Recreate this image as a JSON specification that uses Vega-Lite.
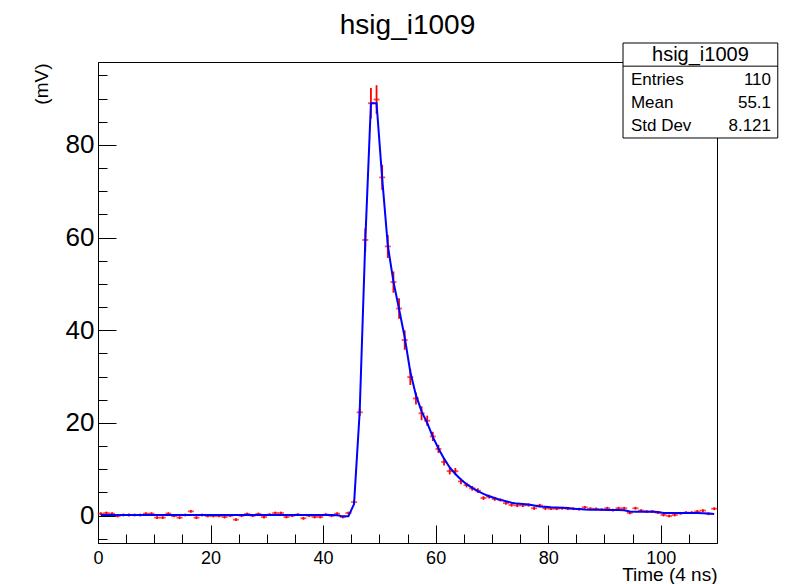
{
  "$schema": "https://vega.github.io/schema/vega-lite/v6.json",
  "width": 619,
  "height": 481,
  "autosize": {"type": "none"},
  "padding": {"left": 98, "top": 62, "right": 73, "bottom": 41},
  "background": "white",
  "title": {"text": "hsig_i1009", "fontSize": 28, "font": "Liberation Sans", "fontWeight": "normal", "color": "black", "anchor": "middle", "frame": "group", "offset": 3},
  "config": {
    "font": "Liberation Sans",
    "view": {"stroke": "black", "strokeWidth": 1},
    "axis": {"grid": false, "domainColor": "black", "domainWidth": 1, "tickColor": "black", "tickWidth": 1, "labelColor": "black", "titleColor": "black", "labelFont": "Liberation Sans", "titleFont": "Liberation Sans", "titleFontWeight": "normal", "labelFlush": false, "labelOverlap": false, "labelBound": false}
  },
  "resolve": {"axis": {"x": "independent", "y": "independent"}},
  "datasets": {
    "hist": [
    {"t":0.5,"v":0.43,"e":0.3,"s":0.12},{"t":1.5,"v":0.57,"e":0.3,"s":0.12},{"t":2.5,"v":0.43,"e":0.3,"s":0.12},{"t":3.5,"v":-0.07,"e":0.3,"s":0.12},{"t":4.5,"v":0.14,"e":0.3,"s":0.12},
    {"t":5.5,"v":0.14,"e":0.3,"s":0.12},{"t":6.5,"v":0.14,"e":0.3,"s":0.12},{"t":7.5,"v":0.14,"e":0.3,"s":0.12},{"t":8.5,"v":0.43,"e":0.3,"s":0.12},{"t":9.5,"v":0.43,"e":0.3,"s":0.12},
    {"t":10.5,"v":-0.43,"e":0.3,"s":0.12},{"t":11.5,"v":-0.43,"e":0.3,"s":0.12},{"t":12.5,"v":0.43,"e":0.3,"s":0.12},{"t":13.5,"v":-0.07,"e":0.3,"s":0.12},{"t":14.5,"v":-0.43,"e":0.3,"s":0.12},
    {"t":15.5,"v":0.14,"e":0.3,"s":0.12},{"t":16.5,"v":0.93,"e":0.3,"s":0.12},{"t":17.5,"v":-0.43,"e":0.3,"s":0.12},{"t":18.5,"v":0.14,"e":0.3,"s":0.12},{"t":19.5,"v":-0.07,"e":0.3,"s":0.12},
    {"t":20.5,"v":-0.07,"e":0.3,"s":0.12},{"t":21.5,"v":-0.07,"e":0.3,"s":0.12},{"t":22.5,"v":-0.29,"e":0.3,"s":0.12},{"t":23.5,"v":0.0,"e":0.3,"s":0.12},{"t":24.5,"v":-0.86,"e":0.3,"s":0.12},
    {"t":25.5,"v":0.0,"e":0.3,"s":0.12},{"t":26.5,"v":0.36,"e":0.3,"s":0.12},{"t":27.5,"v":0.0,"e":0.3,"s":0.12},{"t":28.5,"v":0.36,"e":0.3,"s":0.12},{"t":29.5,"v":-0.29,"e":0.3,"s":0.12},
    {"t":30.5,"v":0.22,"e":0.3,"s":0.12},{"t":31.5,"v":0.57,"e":0.3,"s":0.12},{"t":32.5,"v":0.57,"e":0.3,"s":0.12},{"t":33.5,"v":-0.29,"e":0.3,"s":0.12},{"t":34.5,"v":0.0,"e":0.3,"s":0.12},
    {"t":35.5,"v":0.22,"e":0.3,"s":0.12},{"t":36.5,"v":-0.57,"e":0.3,"s":0.12},{"t":37.5,"v":0.0,"e":0.3,"s":0.12},{"t":38.5,"v":-0.29,"e":0.3,"s":0.12},{"t":39.5,"v":-0.29,"e":0.3,"s":0.12},
    {"t":40.5,"v":0.22,"e":0.3,"s":0.12},{"t":41.5,"v":0.0,"e":0.3,"s":0.12},{"t":42.5,"v":0.43,"e":0.3,"s":0.1},{"t":43.5,"v":-0.29,"e":0.3,"s":-0.15},{"t":44.5,"v":0.57,"e":0.3,"s":-0.15},
    {"t":45.5,"v":2.9,"e":0.4,"s":2.5},{"t":46.5,"v":22.3,"e":0.8,"s":22.3},{"t":47.5,"v":59.5,"e":2.5,"s":59.3},{"t":48.5,"v":89.0,"e":3.3,"s":89.0},{"t":49.5,"v":89.8,"e":3.1,"s":89.0},
    {"t":50.5,"v":73.0,"e":2.7,"s":72.8},{"t":51.5,"v":58.1,"e":2.5,"s":58.3},{"t":52.5,"v":50.4,"e":2.3,"s":50.5},{"t":53.5,"v":44.7,"e":2.2,"s":44.6},{"t":54.5,"v":37.9,"e":2.1,"s":38.5},
    {"t":55.5,"v":29.9,"e":1.7,"s":31.0},{"t":56.5,"v":25.3,"e":1.3,"s":26.0},{"t":57.5,"v":22.1,"e":1.5,"s":22.5},{"t":58.5,"v":20.5,"e":1.1,"s":20.0},{"t":59.5,"v":17.1,"e":1.0,"s":17.0},
    {"t":60.5,"v":14.4,"e":0.9,"s":14.5},{"t":61.5,"v":11.6,"e":0.8,"s":12.3},{"t":62.5,"v":9.6,"e":0.7,"s":10.4},{"t":63.5,"v":9.6,"e":0.7,"s":9.0},{"t":64.5,"v":7.4,"e":0.6,"s":7.8},
    {"t":65.5,"v":6.6,"e":0.5,"s":6.8},{"t":66.5,"v":5.9,"e":0.5,"s":6.0},{"t":67.5,"v":5.4,"e":0.5,"s":5.3},{"t":68.5,"v":3.8,"e":0.4,"s":4.7},{"t":69.5,"v":4.1,"e":0.4,"s":4.2},
    {"t":70.5,"v":3.6,"e":0.4,"s":3.8},{"t":71.5,"v":3.4,"e":0.35,"s":3.4},{"t":72.5,"v":2.7,"e":0.35,"s":3.1},{"t":73.5,"v":2.3,"e":0.35,"s":2.8},{"t":74.5,"v":2.2,"e":0.35,"s":2.6},
    {"t":75.5,"v":2.2,"e":0.35,"s":2.5},{"t":76.5,"v":2.3,"e":0.35,"s":2.4},{"t":77.5,"v":1.6,"e":0.35,"s":2.2},{"t":78.5,"v":2.2,"e":0.35,"s":2.0},{"t":79.5,"v":1.6,"e":0.35,"s":1.9},
    {"t":80.5,"v":1.5,"e":0.3,"s":1.8},{"t":81.5,"v":1.5,"e":0.3,"s":1.75},{"t":82.5,"v":1.6,"e":0.3,"s":1.7},{"t":83.5,"v":1.5,"e":0.3,"s":1.65},{"t":84.5,"v":1.5,"e":0.3,"s":1.5},
    {"t":85.5,"v":1.4,"e":0.3,"s":1.45},{"t":86.5,"v":1.8,"e":0.3,"s":1.35},{"t":87.5,"v":1.5,"e":0.3,"s":1.3},{"t":88.5,"v":1.45,"e":0.3,"s":1.3},{"t":89.5,"v":1.3,"e":0.3,"s":1.3},
    {"t":90.5,"v":1.6,"e":0.3,"s":1.2},{"t":91.5,"v":1.2,"e":0.3,"s":1.2},{"t":92.5,"v":1.6,"e":0.3,"s":1.2},{"t":93.5,"v":1.6,"e":0.3,"s":1.15},{"t":94.5,"v":0.6,"e":0.3,"s":0.9},
    {"t":95.5,"v":1.6,"e":0.3,"s":0.85},{"t":96.5,"v":1.1,"e":0.3,"s":0.85},{"t":97.5,"v":0.9,"e":0.3,"s":0.85},{"t":98.5,"v":0.9,"e":0.3,"s":0.85},{"t":99.5,"v":0.65,"e":0.3,"s":0.8},
    {"t":100.5,"v":0.15,"e":0.3,"s":0.6},{"t":101.5,"v":-0.07,"e":0.3,"s":0.6},{"t":102.5,"v":0.15,"e":0.3,"s":0.6},{"t":103.5,"v":0.5,"e":0.3,"s":0.6},{"t":104.5,"v":0.65,"e":0.3,"s":0.6},
    {"t":105.5,"v":0.65,"e":0.3,"s":0.6},{"t":106.5,"v":0.9,"e":0.3,"s":0.55},{"t":107.5,"v":1.1,"e":0.3,"s":0.5},{"t":108.5,"v":0.4,"e":0.3,"s":0.45},{"t":109.5,"v":1.5,"e":0.3,"s":0.35}
    ]
  },
  "layer": [
    {"data": {"name": "hist"},
     "mark": {"type": "errorbar", "color": "#ff0000", "thickness": 1.8},
     "encoding": {
      "x": {"field": "t", "type": "quantitative",
        "scale": {"domain": [0, 110], "nice": false, "zero": false},
        "axis": {"title": "Time (4 ns)", "values": [0,5,10,15,20,25,30,35,40,45,50,55,60,65,70,75,80,85,90,95,100,105],
          "labelExpr": "datum.value % 20 === 0 ? datum.label : ''",
          "tickSize": {"condition": {"test": "datum.value % 20 === 0", "value": -18}, "value": -9},
          "labelFontSize": 18, "labelPadding": 24, "titleFontSize": 19,
          "titleAnchor": "end", "titleAlign": "right", "titleBaseline": "alphabetic", "titleX": 619, "titleY": 37}},
      "y": {"field": "v", "type": "quantitative",
        "scale": {"domain": [-5.9, 97.9], "nice": false, "zero": false},
        "axis": {"title": "(mV)", "values": [-5,0,5,10,15,20,25,30,35,40,45,50,55,60,65,70,75,80,85,90,95],
          "labelExpr": "datum.value % 20 === 0 ? datum.label : ''",
          "tickSize": {"condition": {"test": "datum.value % 20 === 0", "value": -18}, "value": -9},
          "labelFontSize": 26, "labelPadding": 22, "titleFontSize": 19,
          "titleAnchor": "end", "titleAlign": "right", "titleBaseline": "alphabetic", "titleAngle": -90, "titleX": -51, "titleY": 1}},
      "yError": {"field": "e"}}},
    {"data": {"name": "hist"},
     "mark": {"type": "tick", "orient": "horizontal", "size": 6, "thickness": 1.8, "color": "#ff0000"},
     "encoding": {"x": {"field": "t", "type": "quantitative", "axis": null}, "y": {"field": "v", "type": "quantitative", "axis": null}}},
    {"data": {"name": "hist"},
     "mark": {"type": "line", "color": "#0000ff", "strokeWidth": 2},
     "encoding": {"x": {"field": "t", "type": "quantitative", "axis": null}, "y": {"field": "s", "type": "quantitative", "axis": null}}},
    {"data": {"values": [{"box": "stats"}]},
     "mark": {"type": "rect", "fill": "white", "stroke": "black", "strokeWidth": 1, "clip": false},
     "encoding": {"x": {"datum": 93.3, "axis": null}, "x2": {"datum": 120.8}, "y": {"datum": 102.0, "axis": null}, "y2": {"datum": 81.5}}},
    {"data": {"values": [{"box": "stats"}]},
     "mark": {"type": "rule", "color": "black", "strokeWidth": 1, "clip": false},
     "encoding": {"x": {"datum": 93.3, "axis": null}, "x2": {"datum": 120.8}, "y": {"datum": 97.0, "axis": null}}},
    {"data": {"values": [{"name": "hsig_i1009"}]},
     "mark": {"type": "text", "fontSize": 20, "align": "center", "baseline": "middle", "color": "black", "clip": false},
     "encoding": {"x": {"datum": 107.05, "axis": null}, "y": {"datum": 99.4, "axis": null}, "text": {"field": "name"}}},
    {"data": {"values": [{"name": "Entries", "val": "110"}]},
     "encoding": {"y": {"datum": 94.0, "axis": null}},
     "layer": [
       {"mark": {"type": "text", "fontSize": 17, "align": "left", "baseline": "middle", "color": "black", "clip": false},
        "encoding": {"x": {"datum": 94.7, "axis": null}, "text": {"field": "name"}}},
       {"mark": {"type": "text", "fontSize": 17, "align": "right", "baseline": "middle", "color": "black", "clip": false},
        "encoding": {"x": {"datum": 119.6, "axis": null}, "text": {"field": "val"}}}
     ]},
    {"data": {"values": [{"name": "Mean", "val": "55.1"}]},
     "encoding": {"y": {"datum": 89.1, "axis": null}},
     "layer": [
       {"mark": {"type": "text", "fontSize": 17, "align": "left", "baseline": "middle", "color": "black", "clip": false},
        "encoding": {"x": {"datum": 94.7, "axis": null}, "text": {"field": "name"}}},
       {"mark": {"type": "text", "fontSize": 17, "align": "right", "baseline": "middle", "color": "black", "clip": false},
        "encoding": {"x": {"datum": 119.6, "axis": null}, "text": {"field": "val"}}}
     ]},
    {"data": {"values": [{"name": "Std Dev", "val": "8.121"}]},
     "encoding": {"y": {"datum": 84.1, "axis": null}},
     "layer": [
       {"mark": {"type": "text", "fontSize": 17, "align": "left", "baseline": "middle", "color": "black", "clip": false},
        "encoding": {"x": {"datum": 94.7, "axis": null}, "text": {"field": "name"}}},
       {"mark": {"type": "text", "fontSize": 17, "align": "right", "baseline": "middle", "color": "black", "clip": false},
        "encoding": {"x": {"datum": 119.6, "axis": null}, "text": {"field": "val"}}}
     ]}
  ]
}
